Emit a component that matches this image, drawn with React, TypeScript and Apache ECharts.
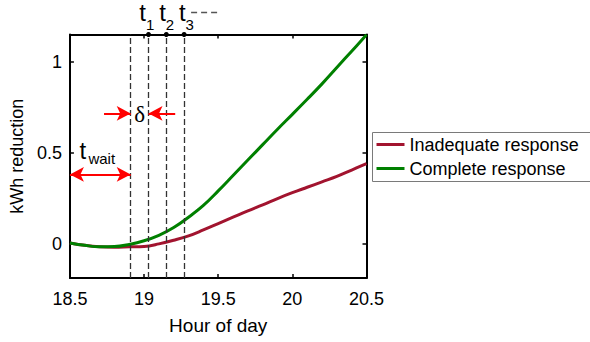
import React, { useEffect, useRef } from "react";
import * as echarts from "echarts";

const hours = [18.5, 18.6, 18.7, 18.8, 18.9, 19.0, 19.1, 19.2, 19.3, 19.4, 19.5, 19.6, 19.7, 19.8, 19.9, 20.0, 20.1, 20.2, 20.3, 20.4, 20.5];
const inadequate = [0.003, -0.01, -0.018, -0.02, -0.018, -0.016, -0.002, 0.018, 0.042, 0.075, 0.11, 0.145, 0.18, 0.213, 0.248, 0.28, 0.31, 0.34, 0.37, 0.405, 0.44];
const complete = [0.003, -0.01, -0.018, -0.017, -0.005, 0.015, 0.045, 0.088, 0.145, 0.21, 0.29, 0.375, 0.46, 0.545, 0.63, 0.712, 0.795, 0.88, 0.97, 1.06, 1.15];
const seriesNames = ["Inadequate response", "Complete response"];
const xTicks = [18.5, 19, 19.5, 20, 20.5];
const yTicks = [0, 0.5, 1];
const tWait = 18.91;
const stepTimes = [19.03, 19.15, 19.27];
const stepLabels = ["1", "2", "3"];
const waitArrowY = 0.381;
const deltaArrowY = 0.717;
const deltaArrowLen = 0.18;

const FONT = "'Liberation Sans', Arial, Helvetica, sans-serif";
const RED = "#A2142F";
const GREEN = "#008000";
const Y_MIN = -0.19;
const Y_MAX = 1.152;

export default function App() {
  const ref = useRef<HTMLDivElement>(null);
  useEffect(() => {
    if (!ref.current) return;
    const chart = echarts.init(ref.current, null, { renderer: "svg" });
    const axisCommon = {
      type: "value" as const,
      axisLine: { show: true, onZero: false, lineStyle: { color: "#000", width: 2 } },
      splitLine: { show: false },
    };
    const option: any = {
      animation: false,
      backgroundColor: "#fff",
      textStyle: { fontFamily: FONT },
      grid: { left: 66.5, right: 223.5, top: 34.5, bottom: 64, containLabel: false },
      legend: {
        data: seriesNames,
        orient: "vertical",
        left: 372.5,
        top: 132.5,
        icon: "rect",
        itemWidth: 28,
        itemHeight: 3,
        itemGap: 6,
        padding: [3, 18, 4, 4],
        borderColor: "#7a7a7a",
        borderWidth: 1,
        textStyle: { fontFamily: FONT, fontSize: 18, color: "#000" },
      },
      xAxis: [
        {
          ...axisCommon,
          min: 18.5,
          max: 20.5,
          interval: 0.5,
          position: "bottom",
          axisTick: { show: true, inside: true, length: 4, lineStyle: { color: "#000", width: 1.5 }, customValues: xTicks },
          axisLabel: { show: true, customValues: xTicks, color: "#000", fontSize: 18, fontFamily: FONT, margin: 12, formatter: (v: number) => String(v) },
          name: "Hour of day",
          nameLocation: "middle",
          nameGap: 38,
          nameTextStyle: { color: "#000", fontSize: 19, fontFamily: FONT },
        },
        {
          ...axisCommon,
          min: 18.5,
          max: 20.5,
          interval: 0.5,
          position: "top",
          axisTick: { show: true, inside: true, length: 4, lineStyle: { color: "#000", width: 1.5 }, customValues: xTicks },
          axisLabel: { show: false },
        },
      ],
      yAxis: [
        {
          ...axisCommon,
          min: Y_MIN,
          max: Y_MAX,
          position: "left",
          axisTick: { show: true, inside: true, length: 4, lineStyle: { color: "#000", width: 1.5 }, customValues: yTicks },
          axisLabel: { show: true, customValues: yTicks, color: "#000", fontSize: 18, fontFamily: FONT, margin: 8, formatter: (v: number) => String(v) },
          name: "kWh reduction",
          nameLocation: "middle",
          nameGap: 37,
          nameTextStyle: { color: "#000", fontSize: 18, fontFamily: FONT },
        },
        {
          ...axisCommon,
          min: Y_MIN,
          max: Y_MAX,
          position: "right",
          axisTick: { show: true, inside: true, length: 4, lineStyle: { color: "#000", width: 1.5 }, customValues: yTicks },
          axisLabel: { show: false },
        },
      ],
      series: [
        {
          name: seriesNames[0],
          type: "line",
          data: hours.map((h, i) => [h, inadequate[i]]),
          smooth: 0.4,
          showSymbol: false,
          lineStyle: { color: RED, width: 3 },
          itemStyle: { color: RED },
          z: 3,
        },
        {
          name: seriesNames[1],
          type: "line",
          data: hours.map((h, i) => [h, complete[i]]),
          smooth: 0.4,
          showSymbol: false,
          lineStyle: { color: GREEN, width: 3 },
          itemStyle: { color: GREEN },
          z: 4,
        },
        {
          name: "markers",
          type: "line",
          data: [],
          silent: true,
          markLine: {
            silent: true,
            symbol: ["none", "none"],
            label: { show: false },
            lineStyle: { color: "#333", width: 1.3, type: [6, 3] },
            data: [tWait, ...stepTimes].map((t) => [{ coord: [t, Y_MIN] }, { coord: [t, Y_MAX] }]),
          },
          markPoint: {
            silent: true,
            symbol: "circle",
            symbolSize: 5,
            itemStyle: { color: "#000" },
            label: { show: false },
            data: stepTimes.map((t) => ({ coord: [t, Y_MAX] })),
          },
        },
        {
          name: "arrows",
          type: "line",
          data: [],
          silent: true,
          markLine: {
            silent: true,
            symbolSize: [11, 14],
            label: { show: false },
            lineStyle: { color: "#ff0000", width: 2, type: "solid" },
            data: [
              [{ coord: [18.5, waitArrowY], symbol: "arrow" }, { coord: [tWait, waitArrowY], symbol: "arrow" }],
              [{ coord: [tWait - deltaArrowLen, deltaArrowY], symbol: "none" }, { coord: [tWait, deltaArrowY], symbol: "arrow" }],
              [{ coord: [stepTimes[0] + deltaArrowLen, deltaArrowY], symbol: "none" }, { coord: [stepTimes[0], deltaArrowY], symbol: "arrow" }],
            ],
          },
        },
      ],
    };
    chart.setOption(option);

    const px = (x: number, y: number) => chart.convertToPixel({ xAxisIndex: 0, yAxisIndex: 0 }, [x, y]) as number[];
    const graphics: any[] = [];
    stepTimes.forEach((t, i) => {
      const p = px(t, Y_MAX);
      const xr = p[0] - 2.5 + i * 2;
      graphics.push({
        type: "text",
        x: xr,
        y: p[1] - 21.8,
        style: { text: "t", font: `24px ${FONT}`, fill: "#000", align: "right", verticalAlign: "middle" },
      });
      graphics.push({
        type: "text",
        x: xr,
        y: p[1] - 10.4,
        style: { text: stepLabels[i], font: `15px ${FONT}`, fill: "#000", align: "left", verticalAlign: "middle" },
      });
    });
    const last = px(stepTimes[2], Y_MAX);
    graphics.push({
      type: "line",
      shape: { x1: last[0] + 7, y1: last[1] - 22, x2: last[0] + 37, y2: last[1] - 22 },
      style: { stroke: "#555", lineWidth: 1.5, lineDash: [6, 4] },
    });
    const wp = px(18.5, waitArrowY);
    graphics.push({
      type: "text",
      x: wp[0] + 9.5,
      y: wp[1] - 24,
      style: { text: "t", font: `24px ${FONT}`, fill: "#000", align: "left", verticalAlign: "middle" },
    });
    graphics.push({
      type: "text",
      x: wp[0] + 18.5,
      y: wp[1] - 16.2,
      style: { text: "wait", font: `15px ${FONT}`, fill: "#000", align: "left", verticalAlign: "middle" },
    });
    const d0 = px(tWait, deltaArrowY);
    const d1 = px(stepTimes[0], deltaArrowY);
    graphics.push({
      type: "text",
      x: (d0[0] + d1[0]) / 2,
      y: d0[1] + 1,
      style: { text: "δ", font: `23px 'Liberation Serif', 'DejaVu Serif', serif`, fill: "#000", align: "center", verticalAlign: "middle" },
    });
    chart.setOption({ graphic: graphics });

    return () => chart.dispose();
  }, []);
  return <div ref={ref} style={{ position: "fixed", left: 0, top: 0, width: 590, height: 342 }} />;
}
